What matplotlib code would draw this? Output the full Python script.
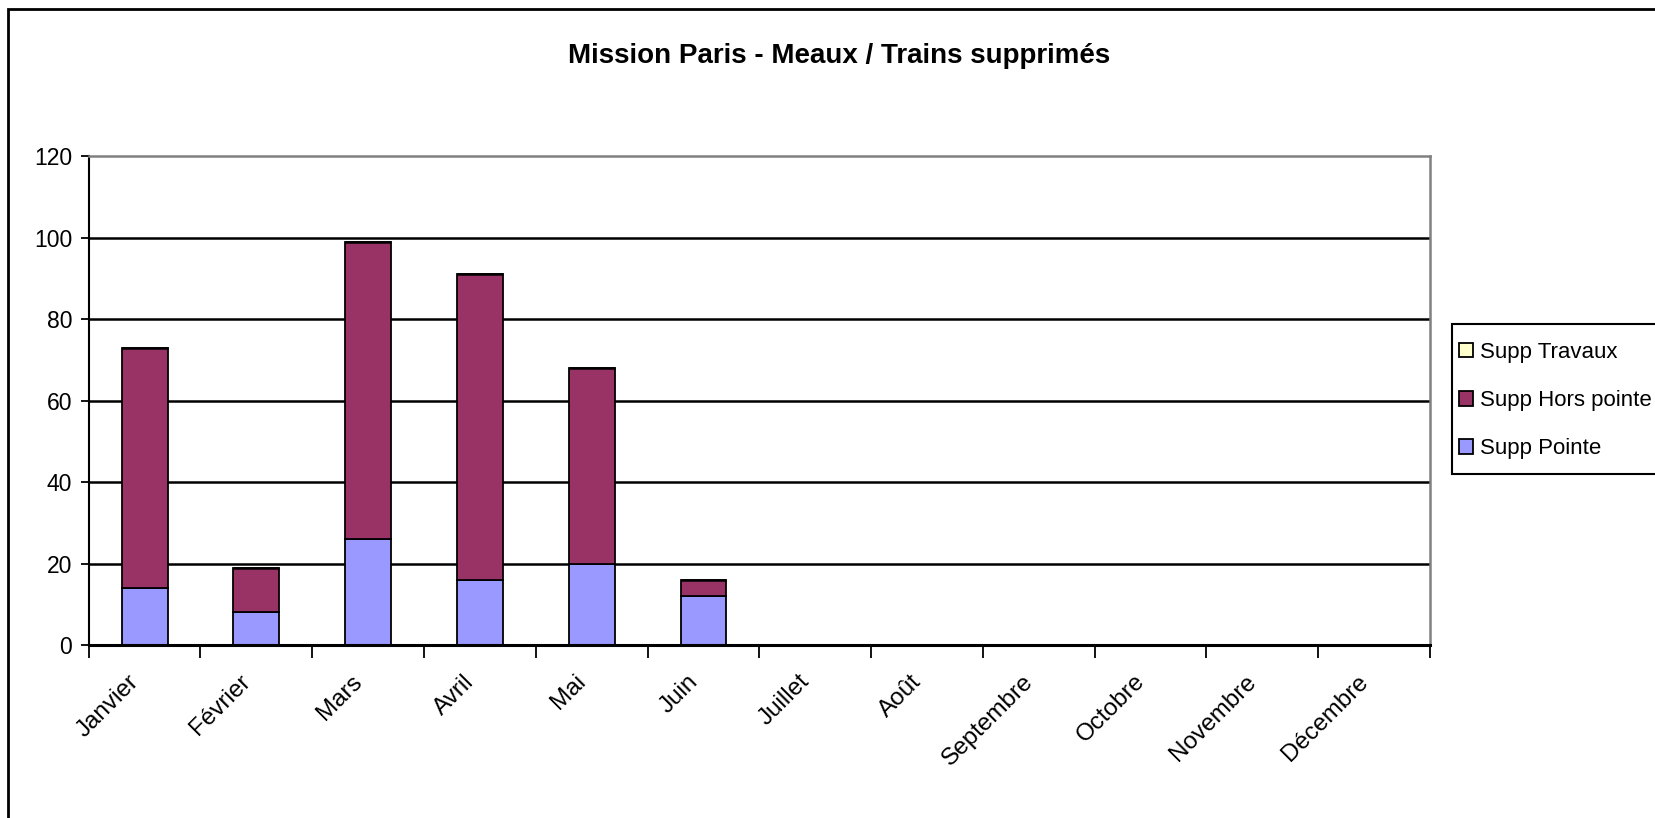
import matplotlib
matplotlib.use("Agg")
import matplotlib.pyplot as plt
import matplotlib.transforms as mtransforms
from matplotlib.patches import Rectangle, Patch
import numpy as np

months = ["Janvier", "Février", "Mars", "Avril", "Mai", "Juin", "Juillet",
          "Août", "Septembre", "Octobre", "Novembre", "Décembre"]
supp_pointe = [14, 8, 26, 16, 20, 12, 0, 0, 0, 0, 0, 0]
supp_hors_pointe = [59, 11, 73, 75, 48, 4, 0, 0, 0, 0, 0, 0]
supp_travaux = [0, 0, 0, 0, 0, 0, 0, 0, 0, 0, 0, 0]
n_drawn = 6  # months with data
yticks = [0, 20, 40, 60, 80, 100, 120]
series_names = ["Supp Travaux", "Supp Hors pointe", "Supp Pointe"]

title = "Mission Paris - Meaux / Trains supprimés"

FONT = ["Liberation Sans", "DejaVu Sans"]
plt.rcParams['font.family'] = FONT

fig = plt.figure(figsize=(16.55, 8.18), dpi=100)
ax = fig.add_axes([0.0536, 0.2115, 0.8104, 0.5975])

c_pointe = "#9999FF"
c_hors = "#993366"
c_trav = "#FFFFCC"

x = np.arange(n_drawn)
p = np.array(supp_pointe[:n_drawn])
h = np.array(supp_hors_pointe[:n_drawn])
t = np.array(supp_travaux[:n_drawn])
w = 0.41
ax.bar(x, p, w, color=c_pointe, edgecolor="black", linewidth=1.3, zorder=3)
ax.bar(x, h, w, bottom=p, color=c_hors, edgecolor="black", linewidth=1.3, zorder=3)
ax.bar(x, t, w, bottom=p + h, color=c_trav, edgecolor="black", linewidth=1.8, zorder=3)

ax.set_xlim(-0.5, len(months) - 0.5)
ax.set_ylim(0, 120)
ax.set_yticks(yticks)
ax.set_yticklabels([str(v) for v in yticks], fontsize=16.5)
ax.tick_params(axis='y', direction='out', length=6, width=1.3, pad=6)

ax.set_xticks(np.arange(len(months)))
ax.set_xticklabels(months, rotation=45, ha='right', va='center',
                   rotation_mode='anchor', fontsize=17.5)
ax.tick_params(axis='x', which='major', length=0, pad=24)
offset = mtransforms.ScaledTranslation(-9 / 100, 0, fig.dpi_scale_trans)
for lab in ax.get_xticklabels():
    lab.set_transform(lab.get_transform() + offset)
ax.set_xticks(np.arange(len(months) + 1) - 0.5, minor=True)
ax.tick_params(axis='x', which='minor', direction='out', length=9, width=1.3)

for v in yticks[1:-1]:
    ax.axhline(v, color="black", linewidth=1.8, zorder=1)

ax.spines['top'].set_color("#808080")
ax.spines['right'].set_color("#808080")
ax.spines['top'].set_linewidth(1.8)
ax.spines['right'].set_linewidth(1.8)
ax.spines['left'].set_linewidth(1.5)
ax.spines['bottom'].set_linewidth(2.2)
ax.spines['bottom'].set_zorder(5)

fig.text(0.507, 0.931, title, ha='center', va='center', fontsize=20,
         fontweight='bold')

# outer chart border
fig.patches.append(Rectangle((0.0051, -0.05), 1.2, 1.05 - 9 / 818,
                             transform=fig.transFigure, fill=False,
                             edgecolor="black", linewidth=2.0))

# legend frame (extends past the right edge, as in the original)
fig.patches.append(Rectangle((1452 / 1655, 1 - 474 / 818), 0.2, 150 / 818,
                             transform=fig.transFigure, facecolor="white",
                             edgecolor="black", linewidth=1.5, zorder=2))

handles = [Patch(facecolor=c_trav, edgecolor="black", linewidth=1.3),
           Patch(facecolor=c_hors, edgecolor="black", linewidth=1.3),
           Patch(facecolor=c_pointe, edgecolor="black", linewidth=1.3)]
leg = fig.legend(handles, series_names,
                 loc='upper left', bbox_to_anchor=(1459 / 1655, 1 - 342 / 818),
                 prop={'size': 16},
                 handlelength=0.63, handleheight=0.63, handletextpad=0.3,
                 labelspacing=1.22, borderpad=0, borderaxespad=0,
                 frameon=False)
leg.set_zorder(3)

fig.savefig("out.png", dpi=100)
